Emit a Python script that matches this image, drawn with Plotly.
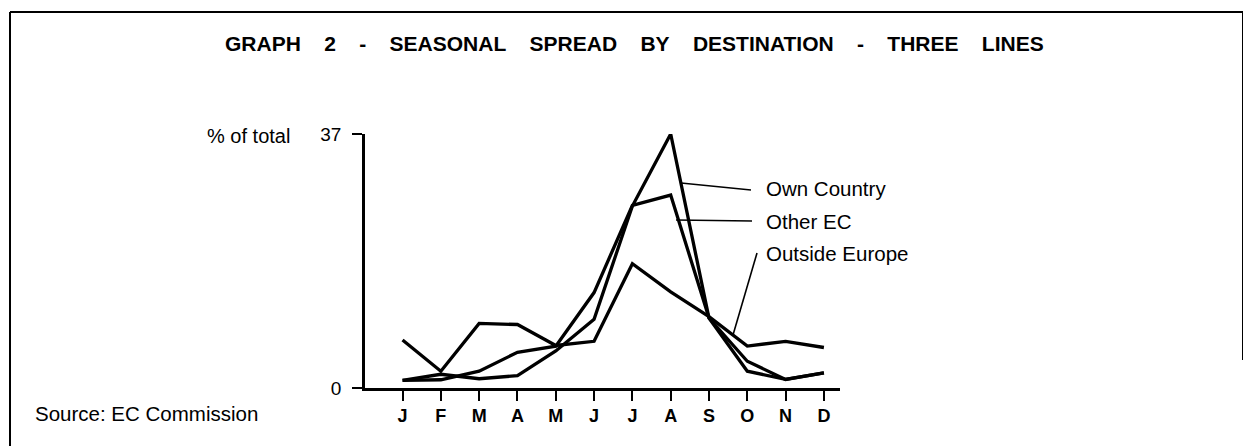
import plotly.graph_objects as go

# Seasonal spread of holidays by destination (% of total per month)
months = ["J", "F", "M", "A", "M", "J", "J", "A", "S", "O", "N", "D"]
own_country = [1.1, 2.0, 1.35, 1.8, 5.4, 10.0, 26.5, 37.0, 10.2, 2.45, 1.25, 2.2]
other_ec = [1.1, 1.2, 2.45, 5.2, 6.1, 13.9, 26.6, 28.1, 10.2, 3.9, 1.25, 2.2]
outside_europe = [7.0, 2.45, 9.4, 9.25, 6.2, 6.8, 18.1, 14.0, 10.4, 6.1, 6.8, 5.9]
y_ticks = [0, 37]
series_names = ["Own Country", "Other EC", "Outside Europe"]

# page body has an 8px margin, so the figure is a bit smaller and shifted
OFF = 8
W, H = 1251 - OFF, 446 - OFF
L, R, T, B = 365 - OFF, 411, 134 - OFF, 58
pw = W - L - R
ph = H - T - B

def px(x):
    return (x - OFF - L) / pw

def py(y):
    return (H - B - (y - OFF)) / ph

FONT = "Liberation Sans, Arial, Helvetica, sans-serif"
x_idx = list(range(len(months)))

fig = go.Figure()
for name, vals in zip(series_names, [own_country, other_ec, outside_europe]):
    fig.add_trace(go.Scatter(
        x=x_idx, y=vals, name=name, mode="lines",
        line=dict(color="black", width=3.3),
        showlegend=False,
    ))

nb = "\u00a0"
sep = nb * 4
title = sep.join(["GRAPH", "2", "-", "SEASONAL", "SPREAD", "BY", "DESTINATION", "-", "THREE", "LINES"])

annotations = [
    dict(text="<b>" + title + "</b>", x=px(634), y=py(44), xref="paper", yref="paper",
         showarrow=False, font=dict(family=FONT, size=21, color="black"),
         xanchor="center", yanchor="middle"),
    dict(text="% of total", x=px(205), y=py(136), xref="paper", yref="paper",
         showarrow=False, font=dict(family=FONT, size=20, color="black"),
         xanchor="left", yanchor="middle"),
    dict(text="Source: EC Commission", x=px(33), y=py(413), xref="paper", yref="paper",
         showarrow=False, font=dict(family=FONT, size=20.5, color="black"),
         xanchor="left", yanchor="middle"),
]
label_y = [188, 221, 253]
for name, ly in zip(series_names, label_y):
    annotations.append(dict(text=name, x=px(764), y=py(ly), xref="paper", yref="paper",
                            showarrow=False, font=dict(family=FONT, size=20.5, color="black"),
                            xanchor="left", yanchor="middle"))

def seg(x0, y0, x1, y1, w=1.6):
    return dict(type="line", xref="paper", yref="paper",
                x0=px(x0), y0=py(y0), x1=px(x1), y1=py(y1),
                line=dict(color="black", width=w))

shapes = [
    # leader lines
    seg(681, 183, 751, 190),
    seg(676, 220, 752, 221),
    seg(733, 335, 757, 253),
    # frame
    seg(10, 12, 10, 446, 2),
    seg(10, 12, 1243, 12, 2),
    seg(1243, 12, 1243, 360, 2),
]

fig.update_layout(
    width=W, height=H,
    margin=dict(l=L, r=R, t=T, b=B, pad=0),
    paper_bgcolor="white", plot_bgcolor="white",
    annotations=annotations, shapes=shapes,
    xaxis=dict(
        range=[-0.98, 11.42], tickvals=x_idx, ticktext=["<b>%s</b>" % m for m in months],
        showline=True, linecolor="black", linewidth=2.5,
        ticks="outside", ticklen=10, tickwidth=2, tickcolor="black",
        showgrid=False, zeroline=False,
        tickfont=dict(family=FONT, size=18, color="black"),
    ),
    yaxis=dict(
        range=[0, 37], tickvals=y_ticks, ticktext=[str(v) for v in y_ticks],
        showline=True, linecolor="black", linewidth=2.5,
        ticks="outside", ticklen=10, tickwidth=2, tickcolor="black",
        showgrid=False, zeroline=False, ticklabelstandoff=7,
        tickfont=dict(family=FONT, size=19, color="black"),
    ),
)

fig.write_html("out.html")
